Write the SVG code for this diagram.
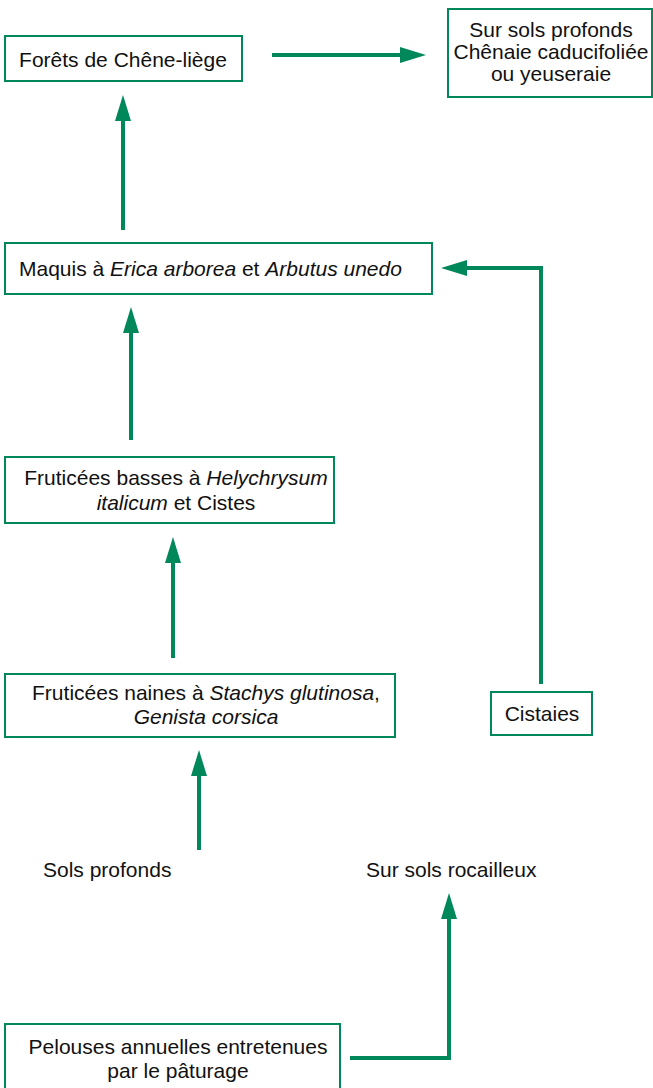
<svg xmlns="http://www.w3.org/2000/svg" width="653" height="1088" viewBox="0 0 653 1088">
<style>
.box{fill:#fff;stroke:#00875a;stroke-width:2}
.t{font-family:"Liberation Sans",Arial,sans-serif;font-size:21px;fill:#111}
.c{text-anchor:middle}
.i{font-style:italic}
.con{fill:none;stroke:#00875a;stroke-width:4}
</style>
<defs>
<marker id="ah" markerUnits="userSpaceOnUse" markerWidth="28" markerHeight="18" refX="6" refY="8" orient="auto" viewBox="0 0 28 18">
<path d="M0,0 L26,8 L0,16 z" fill="#00875a"/>
</marker>
</defs>
<rect width="653" height="1088" fill="#fff"/>
<g id="connectors">
<path class="con" d="M123,230 V115" marker-end="url(#ah)"/>
<path class="con" d="M131,440 V327" marker-end="url(#ah)"/>
<path class="con" d="M173,658 V557" marker-end="url(#ah)"/>
<path class="con" d="M199,850 V770" marker-end="url(#ah)"/>
<path class="con" d="M350,1058 H449 V913" marker-end="url(#ah)"/>
<path class="con" d="M272,55 H406" marker-end="url(#ah)"/>
<path class="con" d="M541,684 V268 H461" marker-end="url(#ah)"/>
</g>
<g id="n-forets">
<rect class="box" x="5" y="36" width="237" height="45"/>
<text class="t c" x="123" y="67">Forêts de Chêne-liège</text>
</g>
<g id="n-chenaie">
<rect class="box" x="448" y="9" width="204" height="88"/>
<text class="t c" x="551" y="37">Sur sols profonds</text>
<text class="t c" x="551" y="59">Chênaie caducifoliée</text>
<text class="t c" x="551" y="81">ou yeuseraie</text>
</g>
<g id="n-maquis">
<rect class="box" x="5" y="243" width="427" height="51"/>
<text class="t" x="19" y="276">Maquis à <tspan class="i">Erica arborea</tspan> et <tspan class="i">Arbutus unedo</tspan></text>
</g>
<g id="n-basses">
<rect class="box" x="5" y="457" width="329" height="66"/>
<text class="t c" x="176" y="485">Fruticées basses à <tspan class="i">Helychrysum</tspan></text>
<text class="t c" x="176" y="510"><tspan class="i">italicum</tspan> et Cistes</text>
</g>
<g id="n-naines">
<rect class="box" x="5" y="674" width="390" height="63"/>
<text class="t c" x="206" y="700">Fruticées naines à <tspan class="i">Stachys glutinosa</tspan>,</text>
<text class="t c" x="206" y="724"><tspan class="i">Genista corsica</tspan></text>
</g>
<g id="n-cistaies">
<rect class="box" x="491" y="692" width="101" height="43"/>
<text class="t c" x="542" y="721">Cistaies</text>
</g>
<g id="n-solsprofonds">
<text class="t" x="43" y="877">Sols profonds</text>
</g>
<g id="n-rocailleux">
<text class="t" x="366" y="877">Sur sols rocailleux</text>
</g>
<g id="n-pelouses">
<rect class="box" x="5" y="1024" width="335" height="72"/>
<text class="t c" x="178" y="1054">Pelouses annuelles entretenues</text>
<text class="t c" x="178" y="1078">par le pâturage</text>
</g>
</svg>
